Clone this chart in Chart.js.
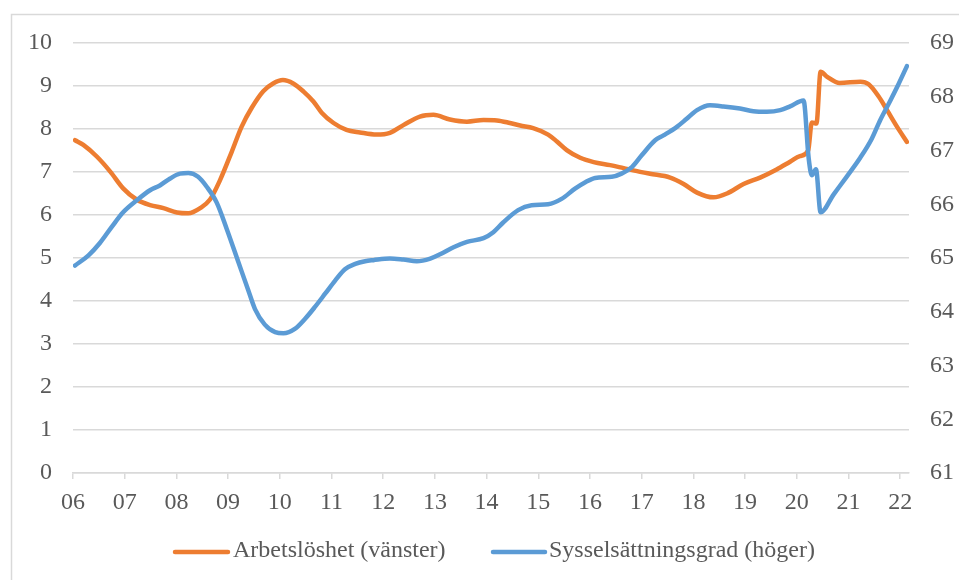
<!DOCTYPE html>
<html>
<head>
<meta charset="utf-8">
<title>Arbetslöshet och sysselsättningsgrad</title>
<script src="https://cdn.jsdelivr.net/npm/chart.js@4.4.1/dist/chart.umd.min.js"></script>
<style>
    html, body { margin: 0; padding: 0; background: #ffffff; }
    #wrap { width: 959px; height: 580px; }
</style>
</head>
<body>
<div id="wrap"><canvas id="jobsChart" width="959" height="580"></canvas></div>
<script>
// Arbetslöshet (vänster axel), procent
const arbDates = [2006.04, 2006.20, 2006.46, 2006.72, 2006.97, 2007.23, 2007.49, 2007.75, 2008.01, 2008.23,
    2008.46, 2008.65, 2008.84, 2009.07, 2009.26, 2009.46, 2009.68, 2009.87, 2010.06, 2010.26,
    2010.46, 2010.65, 2010.81, 2011.04, 2011.29, 2011.55, 2011.87, 2012.13, 2012.39, 2012.71,
    2012.97, 2013.29, 2013.62, 2013.94, 2014.20, 2014.45, 2014.65, 2014.90, 2015.19, 2015.36,
    2015.55, 2015.81, 2016.07, 2016.39, 2016.65, 2016.91, 2017.16, 2017.55, 2017.81, 2018.07,
    2018.39, 2018.65, 2018.97, 2019.29, 2019.61, 2019.87, 2020.06, 2020.22, 2020.29, 2020.38,
    2020.46, 2020.58, 2020.83, 2021.23, 2021.39, 2021.58, 2021.74, 2021.94, 2022.13];
const arbValues = [7.74, 7.63, 7.36, 7.01, 6.62, 6.36, 6.23, 6.16, 6.06, 6.04,
    6.16, 6.36, 6.80, 7.47, 8.05, 8.50, 8.88, 9.06, 9.14, 9.06,
    8.87, 8.64, 8.38, 8.14, 7.98, 7.92, 7.87, 7.91, 8.09, 8.29,
    8.33, 8.22, 8.17, 8.21, 8.20, 8.14, 8.08, 8.02, 7.87, 7.71,
    7.51, 7.33, 7.23, 7.16, 7.09, 7.02, 6.96, 6.87, 6.72, 6.52,
    6.41, 6.50, 6.72, 6.87, 7.06, 7.24, 7.37, 7.50, 8.15, 8.13,
    9.33, 9.22, 9.07, 9.10, 9.04, 8.76, 8.45, 8.05, 7.70];

// Sysselsättningsgrad (höger axel), procent
const sysDates = [2006.04, 2006.30, 2006.52, 2006.75, 2006.97, 2007.23, 2007.49, 2007.68, 2007.88, 2008.07,
    2008.23, 2008.42, 2008.59, 2008.78, 2008.97, 2009.20, 2009.39, 2009.52, 2009.71, 2009.91,
    2010.07, 2010.29, 2010.49, 2010.68, 2010.88, 2011.07, 2011.26, 2011.46, 2011.65, 2011.81,
    2012.13, 2012.39, 2012.65, 2012.91, 2013.10, 2013.36, 2013.62, 2013.94, 2014.13, 2014.32,
    2014.61, 2014.87, 2015.19, 2015.45, 2015.71, 2015.91, 2016.10, 2016.42, 2016.61, 2016.81,
    2017.00, 2017.26, 2017.42, 2017.68, 2017.87, 2018.07, 2018.32, 2018.58, 2018.90, 2019.16,
    2019.42, 2019.68, 2019.87, 2020.13, 2020.23, 2020.29, 2020.37, 2020.46, 2020.71, 2020.97,
    2021.23, 2021.45, 2021.61, 2021.81, 2021.94, 2022.13];
const sysValues = [64.86, 65.05, 65.28, 65.58, 65.85, 66.07, 66.26, 66.35, 66.48, 66.57,
    66.58, 66.51, 66.32, 66.03, 65.55, 64.92, 64.40, 64.05, 63.76, 63.62,
    63.60, 63.68, 63.87, 64.09, 64.34, 64.58, 64.79, 64.89, 64.94, 64.96,
    64.99, 64.97, 64.94, 64.99, 65.07, 65.20, 65.30, 65.37, 65.48, 65.66,
    65.89, 65.98, 66.00, 66.10, 66.29, 66.41, 66.49, 66.51, 66.57, 66.69,
    66.91, 67.19, 67.28, 67.44, 67.59, 67.75, 67.84, 67.82, 67.78, 67.73,
    67.72, 67.75, 67.82, 67.93, 66.85, 66.54, 66.65, 65.85, 66.18, 66.52,
    66.87, 67.22, 67.56, 67.93, 68.18, 68.57];

const seriesNames = ["Arbetslöshet (vänster)", "Sysselsättningsgrad (höger)"];
const seriesColors = ["#ED7D31", "#5B9BD5"];
const yearTicks = [2006, 2007, 2008, 2009, 2010, 2011, 2012, 2013, 2014, 2015, 2016, 2017, 2018, 2019, 2020, 2021, 2022];
const leftTicks = { min: 0, max: 10, step: 1 };
const rightTicks = { min: 61, max: 69, step: 1 };
const yearRange = { min: 2006, max: 2022.17 };

const textColor = "#595959";
const gridColor = "#d9d9d9";
const fontFamily = "'Liberation Serif', 'Times New Roman', serif";

const toPoints = (xs, ys) => xs.map((x, i) => ({ x: x, y: ys[i] }));

// frame around the chart + legend below the plot
const extrasPlugin = {
    id: "extras",
    afterDraw(chart) {
        const ctx = chart.ctx;
        ctx.save();
        ctx.strokeStyle = "#d9d9d9";
        ctx.lineWidth = 1.5;
        ctx.strokeRect(11.5, 14.5, 1000, 700);

        const items = [
            { x: 175, len: 53, textX: 233 },
            { x: 493, len: 52, textX: 549 }
        ];
        const y = 552;
        ctx.font = "24px " + fontFamily;
        ctx.textBaseline = "middle";
        ctx.textAlign = "left";
        items.forEach((it, i) => {
            ctx.strokeStyle = seriesColors[i];
            ctx.lineWidth = 4.5;
            ctx.lineCap = "round";
            ctx.beginPath();
            ctx.moveTo(it.x, y);
            ctx.lineTo(it.x + it.len, y);
            ctx.stroke();
            ctx.fillStyle = textColor;
            ctx.fillText(seriesNames[i], it.textX, y - 1);
        });
        ctx.restore();
    }
};

const canvas = document.getElementById("jobsChart");
new Chart(canvas, {
    type: "line",
    data: {
        datasets: [
            {
                label: seriesNames[0],
                data: toPoints(arbDates, arbValues),
                yAxisID: "yLeft",
                borderColor: seriesColors[0],
                backgroundColor: seriesColors[0],
                borderWidth: 4.5,
                borderCapStyle: "round",
                borderJoinStyle: "round",
                pointRadius: 0,
                cubicInterpolationMode: "monotone",
                order: 2
            },
            {
                label: seriesNames[1],
                data: toPoints(sysDates, sysValues),
                yAxisID: "yRight",
                borderColor: seriesColors[1],
                backgroundColor: seriesColors[1],
                borderWidth: 4.5,
                borderCapStyle: "round",
                borderJoinStyle: "round",
                pointRadius: 0,
                cubicInterpolationMode: "monotone",
                order: 1
            }
        ]
    },
    options: {
        responsive: false,
        animation: false,
        layout: { padding: { top: 43, left: 0, right: 0, bottom: 0 } },
        plugins: {
            legend: { display: false },
            tooltip: { enabled: false }
        },
        scales: {
            x: {
                type: "linear",
                min: yearRange.min,
                max: yearRange.max,
                afterBuildTicks: scale => {
                    scale.ticks = yearTicks.map(v => ({ value: v }));
                },
                afterFit: scale => { scale.height = 107; },
                ticks: {
                    autoSkip: false,
                    maxRotation: 0,
                    padding: 9,
                    color: textColor,
                    font: { family: fontFamily, size: 24 },
                    callback: value => String(value).slice(2)
                },
                grid: { drawOnChartArea: false, drawTicks: true, tickLength: 6, color: gridColor, lineWidth: 1.5 },
                border: { display: true, color: gridColor, width: 1.5 }
            },
            yLeft: {
                position: "left",
                min: leftTicks.min,
                max: leftTicks.max,
                afterFit: scale => { scale.width = 73; },
                ticks: {
                    stepSize: leftTicks.step,
                    padding: 21,
                    color: textColor,
                    font: { family: fontFamily, size: 24 }
                },
                grid: { color: gridColor, lineWidth: 1.5, drawTicks: false },
                border: { display: false }
            },
            yRight: {
                position: "right",
                min: rightTicks.min,
                max: rightTicks.max,
                afterFit: scale => { scale.width = 50; },
                ticks: {
                    stepSize: rightTicks.step,
                    padding: 21,
                    color: textColor,
                    font: { family: fontFamily, size: 24 }
                },
                grid: { display: false, drawTicks: false },
                border: { display: false }
            }
        }
    },
    plugins: [extrasPlugin]
});
</script>
</body>
</html>
